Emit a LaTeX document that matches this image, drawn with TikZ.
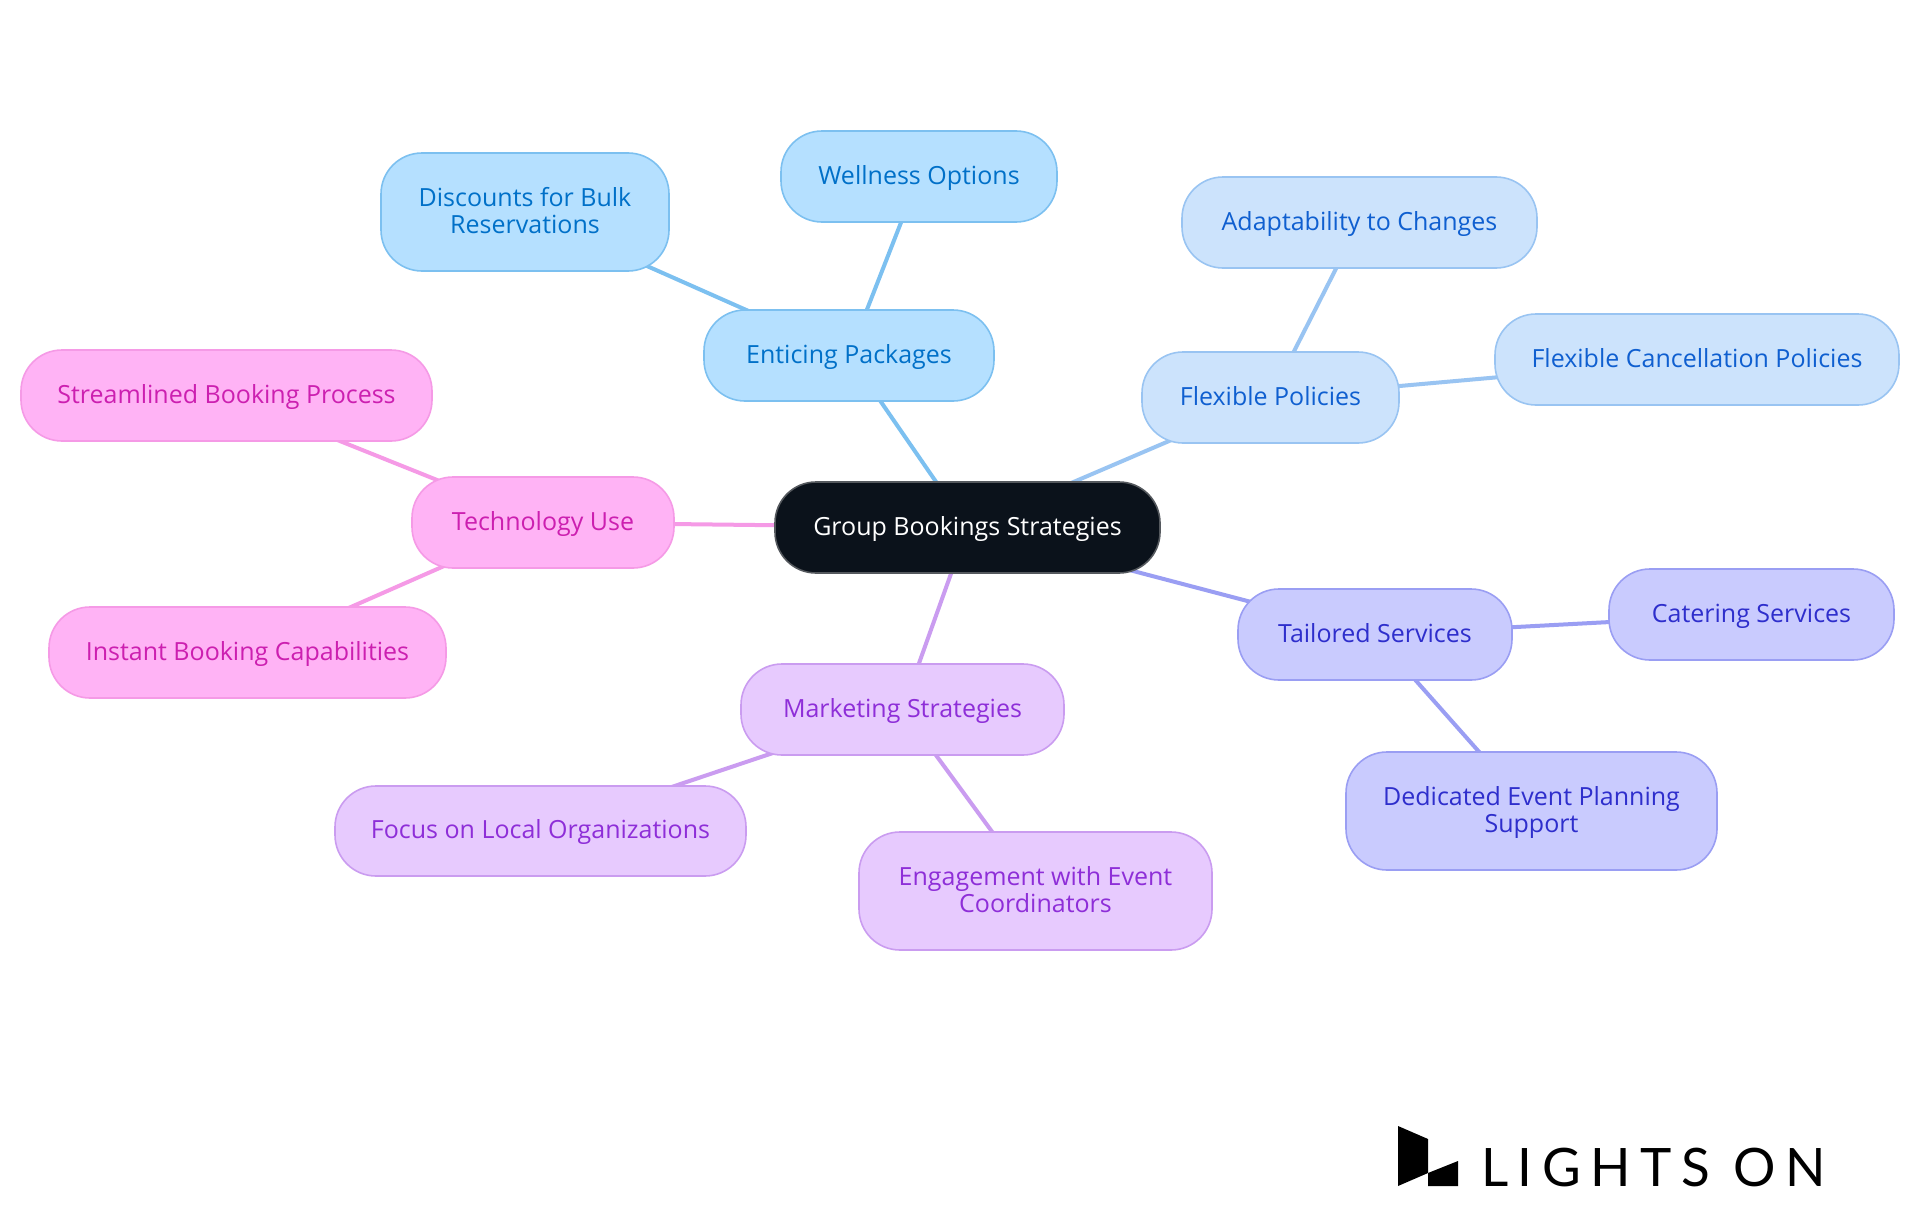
\documentclass[tikz,border=0pt]{standalone}
\usepackage{fontspec}
\setmainfont{Open Sans}
\newfontfamily\logofont[LetterSpace=18]{Lato}
\usetikzlibrary{backgrounds}
\definecolor{skyF}{HTML}{B5E0FF}\definecolor{skyS}{HTML}{7CC0F0}\definecolor{skyT}{HTML}{0070C8}
\definecolor{bluF}{HTML}{CCE3FC}\definecolor{bluS}{HTML}{99C4F2}\definecolor{bluT}{HTML}{0F5FD0}
\definecolor{indF}{HTML}{C9CBFE}\definecolor{indS}{HTML}{9A9EF3}\definecolor{indT}{HTML}{2E2ECC}
\definecolor{purF}{HTML}{E7CAFE}\definecolor{purS}{HTML}{CA9CF0}\definecolor{purT}{HTML}{8E2ED8}
\definecolor{fucF}{HTML}{FFB3F5}\definecolor{fucS}{HTML}{F59AE6}\definecolor{fucT}{HTML}{CC1FB0}
\definecolor{rootF}{HTML}{0B121B}\definecolor{rootS}{HTML}{55595E}
\tikzset{
  mm/.style={rectangle,rounded corners=41pt,line width=1.6pt,inner sep=0pt,align=center,
    font=\fontsize{25}{27}\selectfont},
  rootnode/.style={mm,fill=rootF,draw=rootS,text=white},
  skynode/.style={mm,fill=skyF,draw=skyS,text=skyT},
  blunode/.style={mm,fill=bluF,draw=bluS,text=bluT},
  indnode/.style={mm,fill=indF,draw=indS,text=indT},
  purnode/.style={mm,fill=purF,draw=purS,text=purT},
  fucnode/.style={mm,fill=fucF,draw=fucS,text=fucT},
  link/.style={line width=4pt}
}
\newcommand{\mmbox}[7]{\node[#1,minimum width=#5pt-#3pt,minimum height=#6pt-#4pt] (#2) at ({(#3+#5)/2},{(#4+#6)/2}) {\rule{0pt}{24pt}#7\rule[-9pt]{0pt}{9pt}};}
\begin{document}
\begin{tikzpicture}[x=1pt,y=-1pt]
\useasboundingbox (0,0) rectangle (1920,1215);
\mmbox{rootnode}{root}{775}{482}{1160}{573}{Group Bookings Strategies}
\mmbox{skynode}{pack}{704}{310}{994}{401}{Enticing Packages}
\mmbox{skynode}{well}{781}{131}{1057}{222}{Wellness Options}
\mmbox{skynode}{disc}{381}{153}{669}{271}{Discounts for Bulk\\Reservations}
\mmbox{blunode}{flex}{1142}{352}{1399}{443}{Flexible Policies}
\mmbox{blunode}{adap}{1182}{177}{1537}{268}{Adaptability to Changes}
\mmbox{blunode}{canc}{1495}{314}{1899}{405}{Flexible Cancellation Policies}
\mmbox{indnode}{tail}{1238}{589}{1512}{680}{Tailored Services}
\mmbox{indnode}{cate}{1609}{569}{1894}{660}{Catering Services}
\mmbox{indnode}{dedi}{1346}{752}{1717}{870}{Dedicated Event Planning\\Support}
\mmbox{purnode}{mark}{741}{664}{1064}{755}{Marketing Strategies}
\mmbox{purnode}{focu}{335}{786}{746}{876}{Focus on Local Organizations}
\mmbox{purnode}{enga}{859}{832}{1212}{950}{Engagement with Event\\Coordinators}
\mmbox{fucnode}{tech}{412}{477}{674}{568}{Technology Use}
\mmbox{fucnode}{stre}{21}{350}{432}{441}{Streamlined Booking Process}
\mmbox{fucnode}{inst}{49}{607}{446}{698}{Instant Booking Capabilities}
\begin{pgfonlayer}{background}
\fill[white] (0,0) rectangle (1920,1215);
\draw[link,skyS] (root.center)--(pack.center);
\draw[link,skyS] (pack.center)--(well.center);
\draw[link,skyS] (pack.center)--(disc.center);
\draw[link,bluS] (root.center)--(flex.center);
\draw[link,bluS] (flex.center)--(adap.center);
\draw[link,bluS] (flex.center)--(canc.center);
\draw[link,indS] (root.center)--(tail.center);
\draw[link,indS] (tail.center)--(cate.center);
\draw[link,indS] (tail.center)--(dedi.center);
\draw[link,purS] (root.center)--(mark.center);
\draw[link,purS] (mark.center)--(focu.center);
\draw[link,purS] (mark.center)--(enga.center);
\draw[link,fucS] (root.center)--(tech.center);
\draw[link,fucS] (tech.center)--(stre.center);
\draw[link,fucS] (tech.center)--(inst.center);
\end{pgfonlayer}
\fill[black] (1398,1126) -- (1428,1139) -- (1428,1173) -- (1398,1186) -- cycle;
\fill[black] (1428,1173) -- (1458,1161) -- (1458,1186) -- (1428,1186) -- cycle;
\node[anchor=base west,inner sep=0pt,font=\logofont\fontsize{53}{53}\selectfont] (logo) at (1481,1186) {LIGHTS ON};
\end{tikzpicture}
\end{document}
